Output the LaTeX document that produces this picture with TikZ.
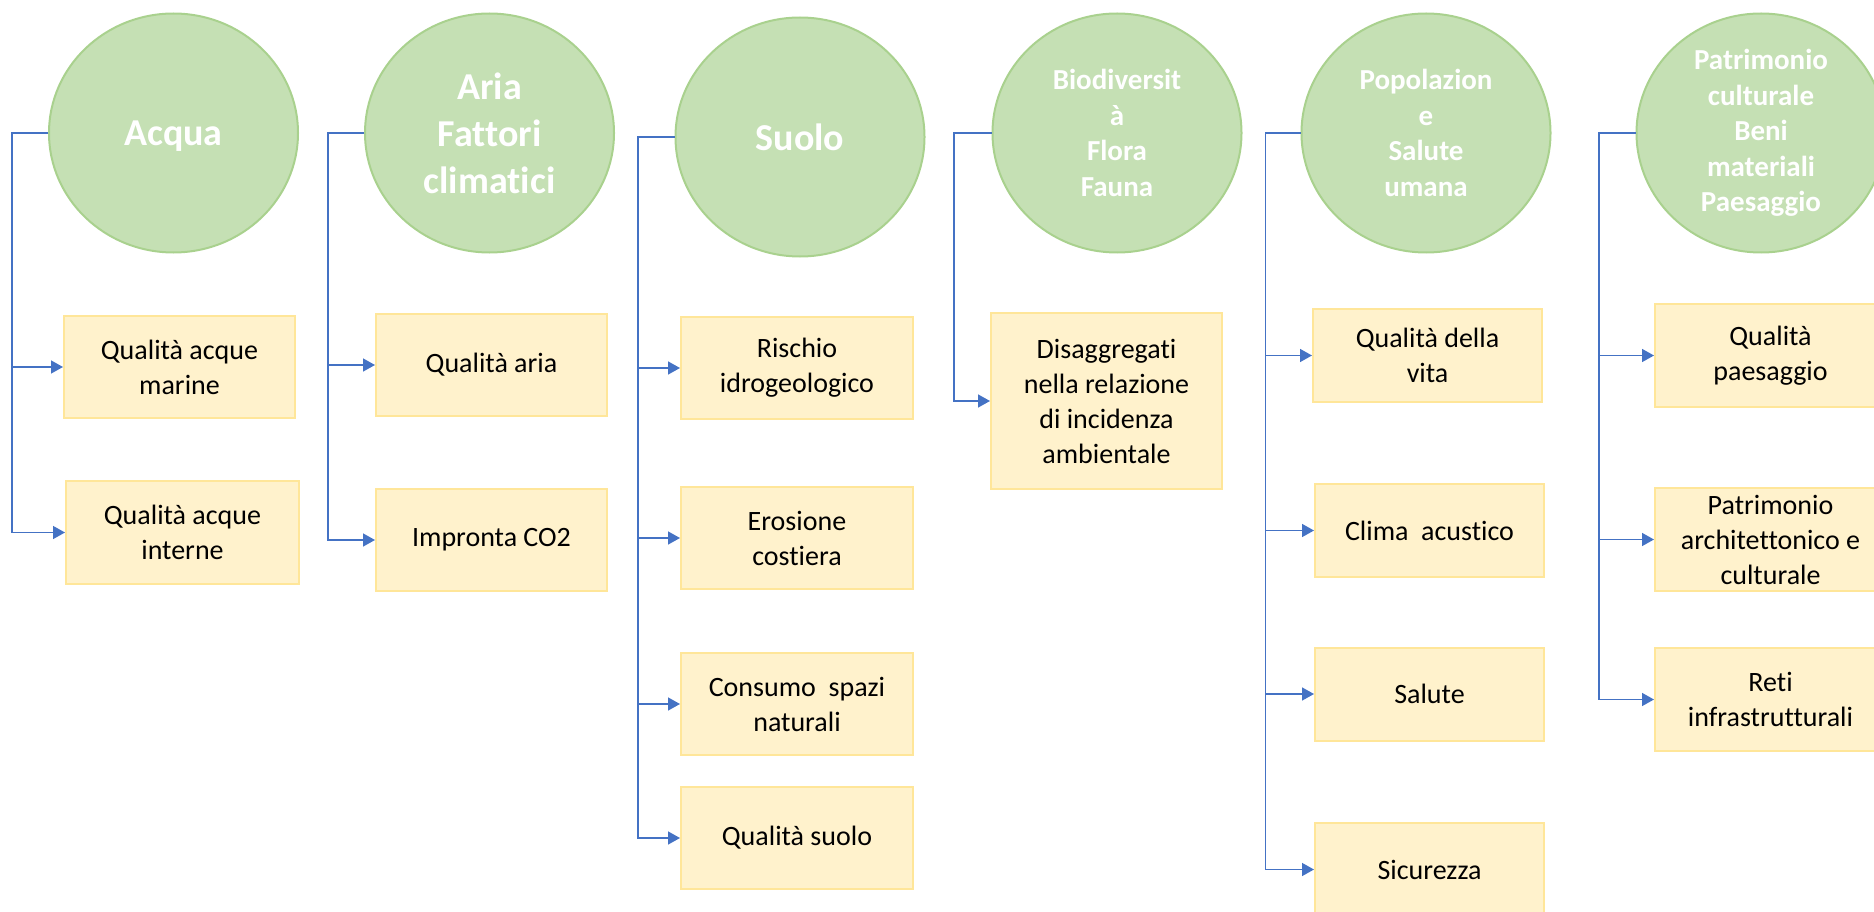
\documentclass[tikz,border=0pt]{standalone}
\usepackage{fontspec}
\setmainfont{Carlito}[Ligatures={NoCommon}]
\usetikzlibrary{shapes.geometric,arrows.meta}
\definecolor{elfill}{HTML}{C5E0B4}
\definecolor{eldraw}{HTML}{A9D18E}
\definecolor{bxfill}{HTML}{FFF2CC}
\definecolor{bxdraw}{HTML}{FFE699}
\definecolor{conncol}{HTML}{4472C4}
\tikzset{
  topic/.style={ellipse, fill=elfill, draw=eldraw, line width=2pt, minimum width=249pt, minimum height=239pt, inner sep=0pt, align=center, text=white, font=\bfseries\fontsize{38}{47}\selectfont},
  topicsm/.style={topic, font=\bfseries\fontsize{29}{35.5}\selectfont},
  item/.style={rectangle, fill=bxfill, draw=bxdraw, line width=2pt, minimum width=231pt, minimum height=102pt, inner sep=0pt, align=center, font=\fontsize{28}{35}\selectfont},
  conn/.style={draw=conncol, line width=1.5pt, -{Triangle[length=12pt,width=13pt]}},
}
\begin{document}
\begin{tikzpicture}[x=1pt,y=-1pt]
\useasboundingbox (0,0) rectangle (1874,912);
% topics
\node[topic, text depth=0pt] (acqua) at (173.5,133) {Acqua};
\node[topic] (aria) at (489.5,133) {Aria\\Fattori\\climatici};
\node[topic] (suolo) at (800,137) {Suolo};
\node[topicsm] (bio) at (1117,133) {Biodiversit\\à\\Flora\\Fauna};
\node[topicsm] (pop) at (1426,133) {Popolazion\\e\\Salute\\umana};
\node[topicsm] (patr) at (1761,133) {Patrimonio\\culturale\\Beni\\materiali\\Paesaggio};
% items
\node[item] (b11) at (179.5,367) {Qualità acque\\marine};
\node[item, minimum width=233pt, minimum height=103pt] (b12) at (182.5,532.5) {Qualità acque\\interne};
\node[item] (b21) at (491.5,365) {Qualità aria};
\node[item] (b22) at (491.5,540) {Impronta CO2};
\node[item, minimum width=232pt] (b31) at (797,368) {Rischio\\idrogeologico};
\node[item, minimum width=232pt] (b32) at (797,538) {Erosione\\costiera};
\node[item, minimum width=232pt] (b33) at (797,704) {Consumo~ spazi\\naturali};
\node[item, minimum width=232pt] (b34) at (797,838) {Qualità suolo};
\node[item, minimum height=176pt] (b41) at (1106.5,401) {Disaggregati\\nella relazione\\di incidenza\\ambientale};
\node[item, minimum width=229pt, minimum height=93pt] (b51) at (1427.5,355.5) {Qualità della\\vita};
\node[item, minimum width=229pt, minimum height=93pt] (b52) at (1429.5,530.5) {Clima~ acustico};
\node[item, minimum width=229pt, minimum height=93pt] (b53) at (1429.5,694) {Salute};
\node[item, minimum width=229pt, minimum height=93pt] (b54) at (1429.5,869.5) {Sicurezza};
\node[item, minimum height=103pt] (b61) at (1770.5,355.5) {Qualità\\paesaggio};
\node[item, minimum height=103pt] (b62) at (1770.5,539.5) {Patrimonio\\architettonico e\\culturale};
\node[item, minimum height=103pt] (b63) at (1770.5,699.5) {Reti\\infrastrutturali};
% corners
\coordinate (c1) at (12,133);
\coordinate (c2) at (328,133);
\coordinate (c3) at (638,137);
\coordinate (c4) at (954,133);
\coordinate (c5) at (1265.5,133);
\coordinate (c6) at (1599,133);
% connectors
\foreach \b in {b11,b12} \draw[conn] (acqua.west) -- (c1) |- (\b.west);
\foreach \b in {b21,b22} \draw[conn] (aria.west) -- (c2) |- (\b.west);
\foreach \b in {b31,b32,b33,b34} \draw[conn] (suolo.west) -- (c3) |- (\b.west);
\draw[conn] (bio.west) -- (c4) |- (b41.west);
\foreach \b in {b51,b52,b53,b54} \draw[conn] (pop.west) -- (c5) |- (\b.west);
\foreach \b in {b61,b62,b63} \draw[conn] (patr.west) -- (c6) |- (\b.west);
\end{tikzpicture}
\end{document}
